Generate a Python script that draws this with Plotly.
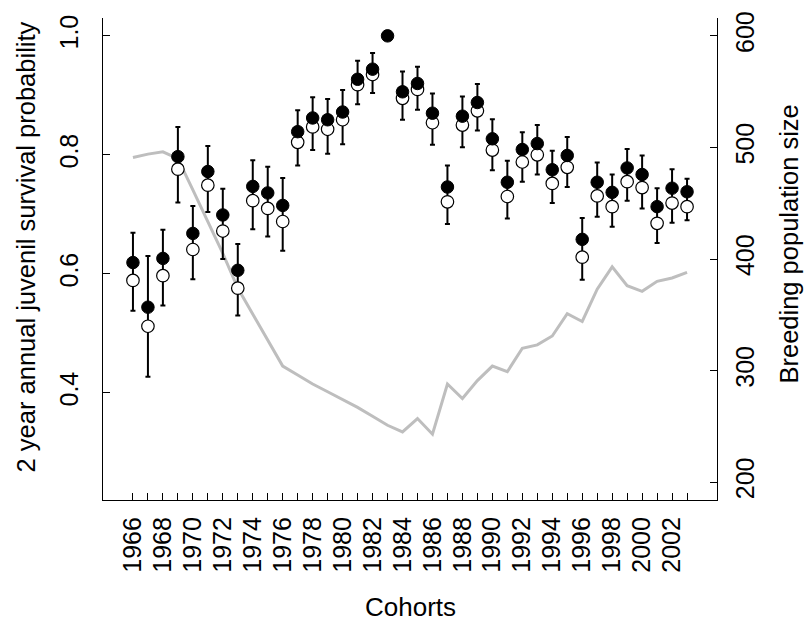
import plotly.graph_objects as go

years = list(range(1966, 2004))
filled = [0.619, 0.544, 0.626, 0.797, 0.668, 0.772, 0.699, 0.606, 0.747, 0.736,
          0.715, 0.839, 0.862, 0.859, 0.872, 0.927, 0.944, 1.000, 0.906, 0.920,
          0.870, 0.746, 0.865, 0.888, 0.827, 0.754, 0.809, 0.819, 0.775, 0.799,
          0.658, 0.754, 0.737, 0.778, 0.767, 0.713, 0.744, 0.738]
opened = [0.589, 0.512, 0.597, 0.776, 0.641, 0.749, 0.672, 0.576, 0.723, 0.710,
          0.688, 0.821, 0.847, 0.843, 0.859, 0.918, 0.935, None, 0.895, 0.910,
          0.854, 0.721, 0.850, 0.874, 0.808, 0.730, 0.788, 0.800, 0.752, 0.779,
          0.628, 0.731, 0.713, 0.755, 0.745, 0.685, 0.719, 0.713]
upper = [0.669, 0.630, 0.674, 0.847, 0.714, 0.815, 0.743, 0.650, 0.791, 0.780,
         0.761, 0.875, 0.897, 0.894, 0.909, 0.958, 0.971, None, 0.940, 0.948,
         0.903, 0.782, 0.898, 0.919, 0.860, 0.790, 0.838, 0.850, 0.807, 0.830,
         0.694, 0.787, 0.767, 0.810, 0.799, 0.744, 0.776, 0.760]
lower = [0.538, 0.427, 0.547, 0.720, 0.591, 0.704, 0.625, 0.530, 0.675, 0.663,
         0.639, 0.782, 0.808, 0.802, 0.818, 0.885, 0.904, None, 0.859, 0.876,
         0.817, 0.684, 0.813, 0.841, 0.774, 0.693, 0.755, 0.767, 0.719, 0.746,
         0.590, 0.696, 0.679, 0.723, 0.710, 0.652, 0.686, 0.690]
population = [491, 494, 496, 490, 462, 434, 405, 374, 351, 328,
              304, 296, 288, 281, 274, 267, 259, 251, 245, 257,
              243, 288, 275, 291, 304, 299, 320, 323, 331, 351,
              344, 373, 393, 376, 371, 380, 383, 388]
x_tick_labels = [str(y) if (y - 1966) % 2 == 0 else "" for y in years]
left_ticks = [0.4, 0.6, 0.8, 1.0]
left_tick_labels = ["0.4", "0.6", "0.8", "1.0"]
right_ticks = [200, 300, 400, 500, 600]

FONT = "Liberation Sans, Arial, Helvetica, sans-serif"

bar_y = [f if u is not None else None for f, u in zip(filled, upper)]
err_plus = [(u - f) if u is not None else None for f, u in zip(filled, upper)]
err_minus = [(f - l) if l is not None else None for f, l in zip(filled, lower)]

fig = go.Figure()

# population line (main y axis, right side, drawn underneath)
fig.add_trace(go.Scatter(
    x=years, y=population, mode="lines", yaxis="y",
    line=dict(color="#bebebe", width=3), showlegend=False, hoverinfo="skip"))

# error bars
fig.add_trace(go.Scatter(
    x=years, y=bar_y, mode="markers", yaxis="y2",
    marker=dict(size=1, opacity=0),
    error_y=dict(type="data", symmetric=False, array=err_plus, arrayminus=err_minus,
                 color="black", thickness=2, width=2.5),
    showlegend=False, hoverinfo="skip"))

# open circles
fig.add_trace(go.Scatter(
    x=years, y=opened, mode="markers", yaxis="y2",
    marker=dict(size=12.5, color="white", line=dict(color="black", width=1.2)),
    showlegend=False))

# filled circles
fig.add_trace(go.Scatter(
    x=years, y=filled, mode="markers", yaxis="y2",
    marker=dict(size=12.5, color="black", line=dict(color="black", width=1)),
    showlegend=False))

axis_common = dict(showgrid=False, zeroline=False, showline=True, linecolor="black",
                   linewidth=1.2, ticks="inside", ticklen=7, tickcolor="black",
                   tickwidth=1.2, tickfont=dict(family=FONT, size=25, color="black"))

fig.update_layout(
    width=807, height=632,
    margin=dict(l=103, r=90, t=18, b=132),
    paper_bgcolor="white", plot_bgcolor="white",
    font=dict(family=FONT, size=25, color="black"),
    xaxis=dict(range=[1964, 2005], tickmode="array", tickvals=years, ticktext=x_tick_labels,
               tickangle=-90, ticklabelstandoff=6, **axis_common),
    yaxis=dict(range=[184, 616], side="right", tickmode="array", tickvals=right_ticks,
               ticktext=[str(v) for v in right_ticks], tickangle=-90,
               ticklabelstandoff=6, **axis_common),
    yaxis2=dict(range=[0.22, 1.03], side="left", overlaying="y", anchor="x",
                tickmode="array", tickvals=left_ticks, ticktext=left_tick_labels,
                tickangle=-90, ticklabelstandoff=14, **axis_common),
    annotations=[
        dict(text="2 year annual juvenil survival probability", xref="paper", yref="paper",
             x=0, y=0.524, xshift=-77, xanchor="center", yanchor="middle", textangle=-90,
             showarrow=False, font=dict(family=FONT, size=25.5, color="black")),
        dict(text="Breeding population size", xref="paper", yref="paper",
             x=1, y=0.53, xshift=72, xanchor="center", yanchor="middle", textangle=-90,
             showarrow=False, font=dict(family=FONT, size=25.5, color="black")),
        dict(text="Cohorts", xref="paper", yref="paper",
             x=0.5, y=0, yshift=-107, xanchor="center", yanchor="middle",
             showarrow=False, font=dict(family=FONT, size=26, color="black")),
    ],
)

fig.write_html("out.html", config={"displayModeBar": False},
               post_script="document.body.style.margin='0';")
